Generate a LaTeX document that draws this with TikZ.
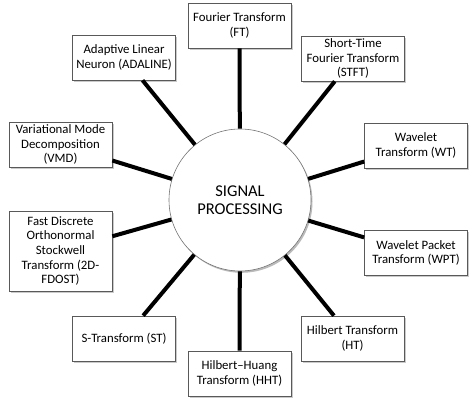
\documentclass[tikz,border=0pt]{standalone}
\usepackage{fontspec}
\setmainfont{Carlito}
\usetikzlibrary{shadows}
\begin{document}
\begin{tikzpicture}[x=1pt,y=1pt,
  box/.style={draw=black!65, line width=0.7pt, fill=white, align=center,
    minimum width=103pt, minimum height=45pt, inner sep=1pt,
    font=\fontsize{12.8}{14.6}\selectfont,
    drop shadow={shadow xshift=1.8pt, shadow yshift=-1.8pt, opacity=0.35, fill=black!60}},
  hub/.style={circle, draw=black!55, line width=0.6pt, fill=white, minimum size=142pt,
    align=center, inner sep=0pt, font=\fontsize{16.5}{18.5}\selectfont,
    drop shadow={shadow xshift=1.5pt, shadow yshift=-1.8pt, opacity=0.45, fill=black!60}},
  link/.style={line width=4pt, black}]
\useasboundingbox (0,0) rectangle (474,-406);
\node[hub] (c) at (240,-200) {SIGNAL\\PROCESSING};
\node[box] (ft) at (239.5,-25.5) {Fourier Transform\\(FT)};
\node[box] (stft) at (353,-58.5) {Short-Time\\Fourier Transform\\(STFT)};
\node[box] (wt) at (416,-145.5) {Wavelet\\Transform (WT)};
\node[box] (wpt) at (416,-253) {Wavelet Packet\\Transform (WPT)};
\node[box] (ht) at (352.5,-338.5) {Hilbert Transform\\(HT)};
\node[box] (hht) at (239.5,-373.5) {Hilbert--Huang\\Transform (HHT)};
\node[box] (st) at (124,-338.5) {S-Transform (ST)};
\node[box, minimum height=80pt] (fdost) at (60.5,-251) {Fast Discrete\\Orthonormal\\Stockwell\\Transform (2D-\\FDOST)};
\node[box] (vmd) at (60.5,-144.5) {Variational Mode\\Decomposition\\(VMD)};
\node[box] (ada) at (124,-57.5) {Adaptive Linear\\Neuron (ADALINE)};
\foreach \n in {ft,stft,wt,wpt,ht,hht,st,fdost,vmd,ada}
  \draw[link] (c) -- (\n);
\end{tikzpicture}
\end{document}
